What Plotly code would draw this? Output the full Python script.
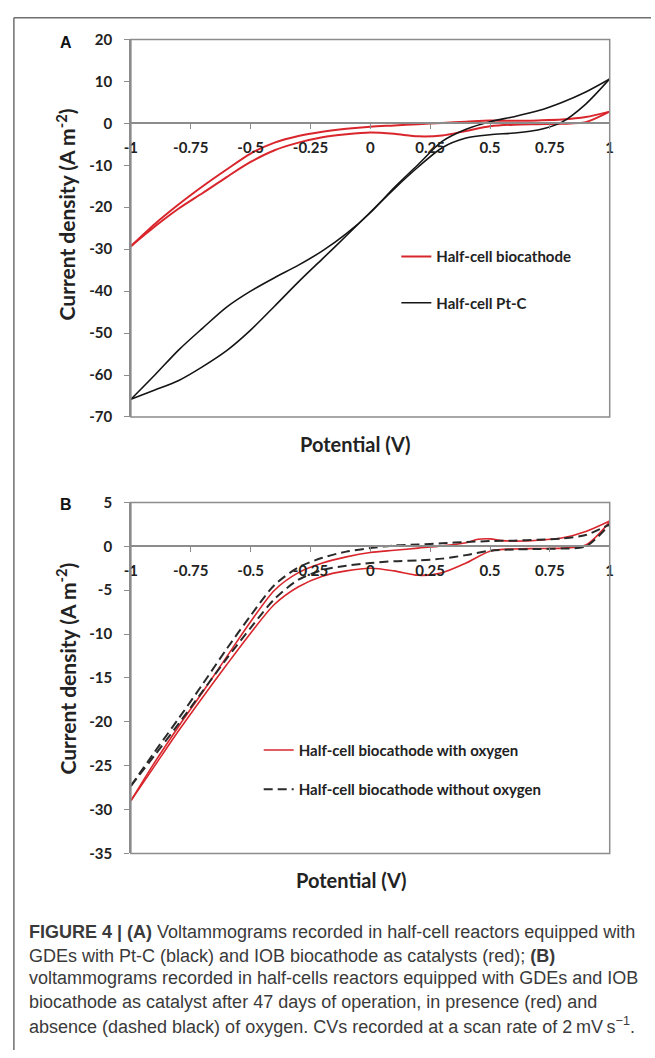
import plotly.graph_objects as go

# ---------------- data ----------------
potential = [-1.0, -0.9, -0.8, -0.7, -0.6, -0.5, -0.4, -0.3, -0.2, -0.1, 0.0,
             0.1, 0.2, 0.3, 0.4, 0.5, 0.6, 0.7, 0.8, 0.9, 1.0]

# Panel A - half-cell biocathode (red), two branches of the CV loop
a_bio_upper = [-29.3, -24.0, -19.3, -15.0, -11.0, -7.2, -4.6, -3.0, -2.0, -1.3, -0.8,
               -0.5, -0.2, 0.1, 0.4, 0.7, 0.6, 0.7, 0.9, 1.5, 2.8]
a_bio_lower = [-29.3, -24.6, -20.3, -16.6, -12.8, -9.2, -6.4, -4.6, -3.3, -2.6, -2.2,
               -2.5, -3.1, -2.9, -1.8, -0.7, -0.3, -0.2, -0.1, 0.3, 2.8]
# Panel A - half-cell Pt-C (black)
a_ptc_upper = [-65.8, -60.0, -54.0, -48.8, -43.8, -40.0, -36.8, -33.8, -30.4, -26.3, -21.3,
               -15.3, -9.8, -4.3, -1.4, 0.4, 1.6, 3.0, 5.0, 7.5, 10.6]
a_ptc_lower = [-65.8, -63.6, -61.3, -58.0, -54.2, -49.3, -43.6, -37.8, -32.3, -26.8, -21.2,
               -15.6, -10.4, -5.8, -3.5, -2.7, -2.3, -1.6, 0.3, 4.6, 10.6]

# Panel B - biocathode with oxygen (red)
potential_b_red_upper = [-1.0, -0.9, -0.8, -0.7, -0.6, -0.5, -0.4, -0.3, -0.2, -0.1, 0.0,
                         0.1, 0.2, 0.3, 0.4, 0.45, 0.5, 0.55, 0.6, 0.7, 0.8, 0.9, 1.0]
b_oxy_upper = [-29.0, -24.6, -20.5, -16.6, -12.6, -8.6, -5.0, -3.0, -1.9, -1.2, -0.7,
               -0.45, -0.2, 0.05, 0.4, 0.8, 0.85, 0.65, 0.6, 0.7, 0.95, 1.7, 2.9]
b_oxy_lower = [-29.0, -25.0, -21.0, -17.2, -13.5, -9.9, -6.6, -4.6, -3.4, -2.8, -2.5,
               -2.8, -3.3, -3.0, -1.9, -0.55, -0.3, -0.25, -0.2, 0.15, 2.8]
# Panel B - biocathode without oxygen (dashed black)
b_nooxy_upper = [-27.3, -23.4, -19.6, -15.7, -11.7, -7.9, -4.4, -2.4, -1.3, -0.6, -0.2,
                 0.1, 0.2, 0.35, 0.5, 0.6, 0.65, 0.75, 0.9, 1.3, 2.5]
b_nooxy_lower = [-27.3, -23.8, -20.2, -16.5, -12.8, -9.3, -6.0, -3.8, -2.7, -2.2, -1.9,
                 -1.7, -1.6, -1.4, -1.0, -0.5, -0.35, -0.3, -0.25, 0.0, 2.5]

x_ticks = [-1, -0.75, -0.5, -0.25, 0, 0.25, 0.5, 0.75, 1]
x_tick_labels = ["-1", "-0.75", "-0.5", "-0.25", "0", "0.25", "0.5", "0.75", "1"]
a_y_ticks = [20, 10, 0, -10, -20, -30, -40, -50, -60, -70]
a_y_tick_labels = ["20", "10", "0", "-10", "-20", "-30", "-40", "-50", "-60", "-70"]
b_y_ticks = [5, 0, -5, -10, -15, -20, -25, -30, -35]
b_y_tick_labels = ["5", "0", "-5", "-10", "-15", "-20", "-25", "-30", "-35"]

legend_a = ["Half-cell biocathode", "Half-cell Pt-C"]
legend_b = ["Half-cell biocathode with oxygen", "Half-cell biocathode without oxygen"]

caption_lines = [
    "<b>FIGURE 4 | (A)</b> Voltammograms recorded in half-cell reactors equipped with",
    "GDEs with Pt-C (black) and IOB biocathode as catalysts (red); <b>(B)</b>",
    "voltammograms recorded in half-cells reactors equipped with GDEs and IOB",
    "biocathode as catalyst after 47 days of operation, in presence (red) and",
    "absence (dashed black) of oxygen. CVs recorded at a scan rate of 2\u2009mV\u2009s<sup>\u22121</sup>.",
]

# ---------------- layout helpers ----------------
W, H = 655, 1058
def fx(p):
    return p / W
def fy(p):
    return 1 - p / H

RED = "#d9262c"
BLACK = "#151515"
AXIS = "#8c8c8c"
TXT = "#222222"
FONT = "Lato"

a_dom = [fy(414), fy(30)]
b_dom = [fy(858), fy(501)]
x_dom = [fx(126), fx(613)]
a_range = [-70, 20]
b_range = [-35, 5]
a_pos = a_dom[0] + (0 - a_range[0]) / (a_range[1] - a_range[0]) * (a_dom[1] - a_dom[0])
b_pos = b_dom[0] + (0 - b_range[0]) / (b_range[1] - b_range[0]) * (b_dom[1] - b_dom[0])

fig = go.Figure()
spl = dict(shape="spline", smoothing=0.8)

fig.add_trace(go.Scatter(x=potential, y=a_bio_upper, mode="lines", name=legend_a[0],
                         line=dict(color=RED, width=2, **spl), xaxis="x", yaxis="y",
                         legend="legend", showlegend=True))
fig.add_trace(go.Scatter(x=potential, y=a_bio_lower, mode="lines", name=legend_a[0],
                         line=dict(color=RED, width=2, **spl), xaxis="x", yaxis="y",
                         showlegend=False))
fig.add_trace(go.Scatter(x=potential, y=a_ptc_upper, mode="lines", name=legend_a[1],
                         line=dict(color=BLACK, width=1.6, **spl), xaxis="x", yaxis="y",
                         legend="legend2", showlegend=True))
fig.add_trace(go.Scatter(x=potential, y=a_ptc_lower, mode="lines", name=legend_a[1],
                         line=dict(color=BLACK, width=1.6, **spl), xaxis="x", yaxis="y",
                         showlegend=False))

fig.add_trace(go.Scatter(x=potential_b_red_upper, y=b_oxy_upper, mode="lines", name=legend_b[0],
                         line=dict(color=RED, width=1.6, **spl), xaxis="x2", yaxis="y2",
                         legend="legend3", showlegend=True))
fig.add_trace(go.Scatter(x=potential, y=b_oxy_lower, mode="lines", name=legend_b[0],
                         line=dict(color=RED, width=1.6, **spl), xaxis="x2", yaxis="y2",
                         showlegend=False))
fig.add_trace(go.Scatter(x=potential, y=b_nooxy_upper, mode="lines", name=legend_b[1],
                         line=dict(color="#2a2a2a", width=2, dash="9px,5px", **spl),
                         xaxis="x2", yaxis="y2", legend="legend4", showlegend=True))
fig.add_trace(go.Scatter(x=potential, y=b_nooxy_lower, mode="lines", name=legend_b[1],
                         line=dict(color="#2a2a2a", width=2, dash="9px,5px", **spl),
                         xaxis="x2", yaxis="y2", showlegend=False))

tickfont = dict(family=FONT, size=15, color=TXT, weight="bold")

def xaxis(pos):
    return dict(domain=x_dom, range=[-1, 1], anchor="free", position=pos,
                tickmode="array", tickvals=x_ticks, ticktext=x_tick_labels,
                ticks="outside", ticklen=5, tickwidth=1.3, tickcolor=AXIS,
                showline=True, linecolor=AXIS, linewidth=1.5,
                showgrid=False, zeroline=False, tickfont=tickfont,
                ticklabelstandoff=6, fixedrange=True)

def yaxis(dom, rng, tv, tt, anchor_x):
    return dict(domain=dom, range=rng, anchor=anchor_x,
                tickmode="array", tickvals=tv, ticktext=tt,
                ticks="outside", ticklen=5, tickwidth=1.3, tickcolor=AXIS,
                showline=True, linecolor=AXIS, linewidth=1.5,
                showgrid=False, zeroline=False, tickfont=tickfont,
                ticklabelstandoff=9, fixedrange=True)

legfont = dict(family=FONT, size=15, color=TXT, weight="bold")
def leg(xp, yp):
    return dict(x=fx(xp), y=fy(yp), xanchor="left", yanchor="middle",
                bgcolor="rgba(0,0,0,0)", borderwidth=0, font=legfont,
                itemclick=False, itemdoubleclick=False)

def ann(text, xp, yp, size, family=FONT, color=TXT, angle=0):
    return dict(text=text, x=fx(xp), y=fy(yp), xref="paper", yref="paper",
                xanchor="center", yanchor="middle", textangle=angle, showarrow=False,
                font=dict(family=family, size=size, color=color))

annotations = [
    ann("<b>A</b>", 60, 33, 16, family="Liberation Sans", color="#111"),
    ann("<b>B</b>", 60, 503, 16, family="Liberation Sans", color="#111"),
    ann("<b>Current density (A m<sup>-2</sup>)</b>", 60, 208, 21, angle=-90),
    ann("<b>Current density (A m<sup>-2</sup>)</b>", 60, 670, 21, angle=-90),
    ann("<b>Potential (V)</b>", 354, 442, 20),
    ann("<b>Potential (V)</b>", 350, 885, 20),
]
cap_y = [938, 962, 985, 1009, 1033]
for line, yy in zip(caption_lines, cap_y):
    annotations.append(dict(text=line, x=fx(20), y=fy(yy), xref="paper", yref="paper",
                            xanchor="left", yanchor="middle", showarrow=False,
                            font=dict(family="Liberation Sans", size=18, color="#3a3a3a")))

shapes = [
    dict(type="rect", xref="x domain", yref="y domain", x0=0, x1=1, y0=0, y1=1,
         line=dict(color=AXIS, width=1.5), layer="above"),
    dict(type="rect", xref="x2 domain", yref="y2 domain", x0=0, x1=1, y0=0, y1=1,
         line=dict(color=AXIS, width=1.5), layer="above"),
    # outer frame (top and left edges)
    dict(type="line", xref="paper", yref="paper", x0=fx(7), x1=1, y0=fy(8), y1=fy(8),
         line=dict(color="#6f6f6f", width=1.5)),
    dict(type="line", xref="paper", yref="paper", x0=fx(7), x1=fx(7), y0=fy(8), y1=0,
         line=dict(color="#6f6f6f", width=1.5)),
]

fig.update_layout(
    width=W, height=H, margin=dict(l=0, r=0, t=0, b=0),
    paper_bgcolor="white", plot_bgcolor="white",
    xaxis=xaxis(a_pos),
    yaxis=yaxis(a_dom, a_range, a_y_ticks, a_y_tick_labels, "x"),
    xaxis2=xaxis(b_pos),
    yaxis2=yaxis(b_dom, b_range, b_y_ticks, b_y_tick_labels, "x2"),
    legend=leg(396, 251),
    legend2=leg(396, 298),
    legend3=leg(256, 753),
    legend4=leg(256, 793),
    annotations=annotations,
    shapes=shapes,
)

fig.write_html("out.html")
